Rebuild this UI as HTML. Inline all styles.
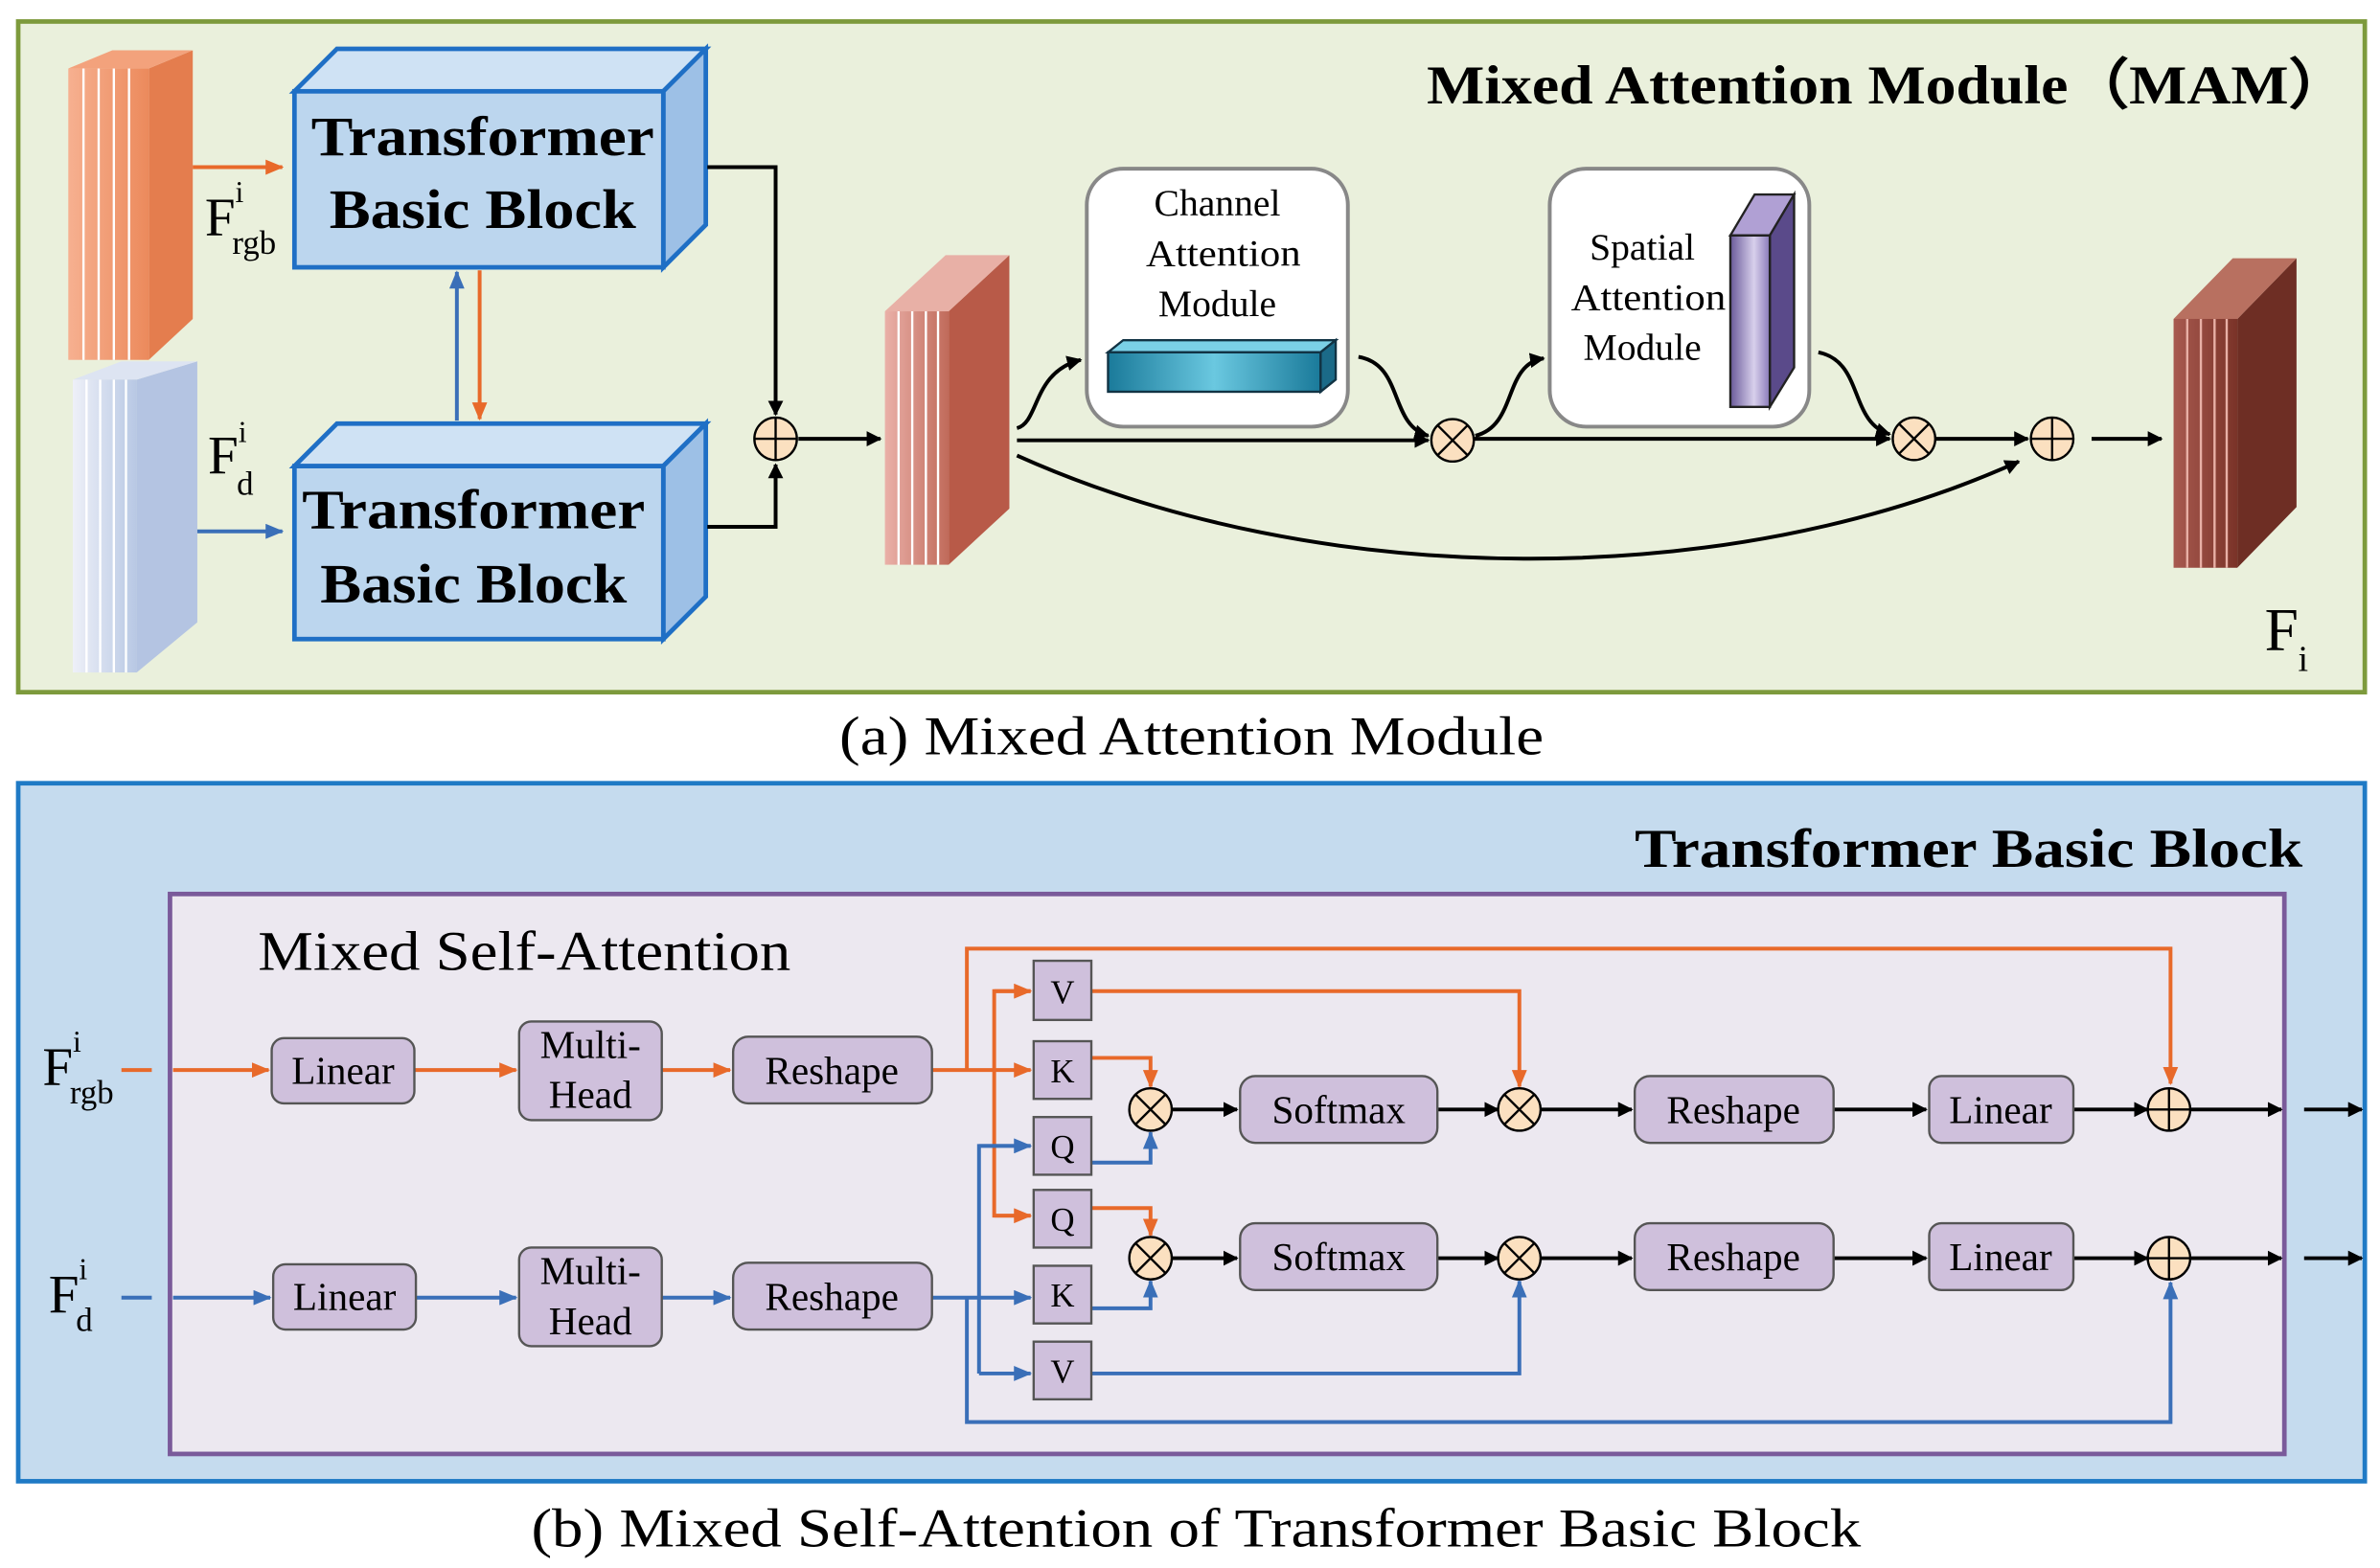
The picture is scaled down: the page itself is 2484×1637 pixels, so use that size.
<!DOCTYPE html>
<html><head><meta charset="utf-8"><style>html,body{margin:0;padding:0;background:#fff}svg{display:block}</style></head>
<body>
<svg width="2484" height="1637" viewBox="0 0 1568 1033" xmlns="http://www.w3.org/2000/svg" font-family="Liberation Serif, serif">
<defs>
<marker id="ak" markerWidth="10" markerHeight="10" refX="9" refY="5" orient="auto" markerUnits="userSpaceOnUse"><path d="M0,0 L10,5 L0,10 z" fill="#000"/></marker>
<marker id="ao" markerWidth="12" markerHeight="10" refX="11" refY="5" orient="auto" markerUnits="userSpaceOnUse"><path d="M0,0 L12,5 L0,10 z" fill="#e8692a"/></marker>
<marker id="ab" markerWidth="12" markerHeight="10" refX="11" refY="5" orient="auto" markerUnits="userSpaceOnUse"><path d="M0,0 L12,5 L0,10 z" fill="#3a6fb8"/></marker>
<linearGradient id="gor" x1="0" x2="1"><stop offset="0" stop-color="#f6b090"/><stop offset="1" stop-color="#ec8a5c"/></linearGradient>
<linearGradient id="gbl" x1="0" x2="1"><stop offset="0" stop-color="#eef0f8"/><stop offset="1" stop-color="#b8c8e4"/></linearGradient>
<linearGradient id="grd" x1="0" x2="1"><stop offset="0" stop-color="#eab0a8"/><stop offset="1" stop-color="#c06a5a"/></linearGradient>
<linearGradient id="gdr" x1="0" x2="1"><stop offset="0" stop-color="#a85a50"/><stop offset="1" stop-color="#7a3328"/></linearGradient>
<linearGradient id="gteal" x1="0" x2="1"><stop offset="0" stop-color="#1a7a9a"/><stop offset="0.5" stop-color="#6ac8e0"/><stop offset="1" stop-color="#1a7a9a"/></linearGradient>
<linearGradient id="gpur" x1="0" x2="1"><stop offset="0" stop-color="#6a5a9a"/><stop offset="0.6" stop-color="#d8d0ec"/><stop offset="1" stop-color="#8a7ab8"/></linearGradient>
</defs>

<rect x="12" y="14" width="1546" height="442" fill="#eaf0dc" stroke="#7d9a3c" stroke-width="3"/>
<text x="940" y="68" font-size="36" font-weight="bold" textLength="608" lengthAdjust="spacingAndGlyphs">Mixed Attention Module（MAM）</text>

<polygon points="98,45 127,33 127,210 98,237" fill="#e47d4e"/>
<polygon points="45,45 74,33 127,33 98,45" fill="#f3a27c"/>
<rect x="45" y="45" width="53" height="192" fill="url(#gor)"/>
<g stroke="#fff" stroke-width="1.5"><line x1="55" y1="45" x2="55" y2="237"/><line x1="65" y1="45" x2="65" y2="237"/><line x1="75" y1="45" x2="75" y2="237"/><line x1="85" y1="45" x2="85" y2="237"/></g>
<polygon points="90,250 130,238 130,410 90,443" fill="#b4c4e2"/>
<polygon points="48,250 80,238 130,238 90,250" fill="#dde4f2"/>
<rect x="48" y="250" width="42" height="193" fill="url(#gbl)"/>
<g stroke="#fff" stroke-width="1.5"><line x1="57" y1="250" x2="57" y2="443"/><line x1="66" y1="250" x2="66" y2="443"/><line x1="75" y1="250" x2="75" y2="443"/><line x1="83" y1="250" x2="83" y2="443"/></g>

<text x="135" y="155" font-size="36">F</text><text x="155" y="133" font-size="20">i</text><text x="153" y="167" font-size="22">rgb</text>
<text x="137" y="312" font-size="36">F</text><text x="157" y="291" font-size="20">i</text><text x="156" y="326" font-size="22">d</text>

<g stroke="#1f6fc5" stroke-width="3">
<polygon points="194,60 222,32 465,32 437,60" fill="#cfe2f4"/>
<polygon points="437,60 465,32 465,148 437,176" fill="#9dc0e6"/>
<rect x="194" y="60" width="243" height="116" fill="#bcd6ee"/>
<polygon points="194,307 222,279 465,279 437,307" fill="#cfe2f4"/>
<polygon points="437,307 465,279 465,393 437,421" fill="#9dc0e6"/>
<rect x="194" y="307" width="243" height="114" fill="#bcd6ee"/>
</g>
<g font-size="37" font-weight="bold">
<text x="205" y="102" textLength="226" lengthAdjust="spacingAndGlyphs">Transformer</text><text x="217" y="150" textLength="202" lengthAdjust="spacingAndGlyphs">Basic Block</text>
<text x="199" y="348" textLength="226" lengthAdjust="spacingAndGlyphs">Transformer</text><text x="211" y="397" textLength="202" lengthAdjust="spacingAndGlyphs">Basic Block</text>
</g>
<line x1="127" y1="110" x2="186" y2="110" stroke="#e8692a" stroke-width="2.5" marker-end="url(#ao)"/>
<line x1="130" y1="350" x2="186" y2="350" stroke="#3a6fb8" stroke-width="2.5" marker-end="url(#ab)"/>
<line x1="301" y1="277" x2="301" y2="179" stroke="#3a6fb8" stroke-width="2.5" marker-end="url(#ab)"/>
<line x1="316" y1="178" x2="316" y2="276" stroke="#e8692a" stroke-width="2.5" marker-end="url(#ao)"/>
<g fill="none" stroke="#000" stroke-width="2.5">
<polyline points="466,110 511,110 511,273" marker-end="url(#ak)"/>
<polyline points="466,347 511,347 511,306" marker-end="url(#ak)"/>
<line x1="526" y1="289" x2="580" y2="289" marker-end="url(#ak)"/>
</g>
<g fill="#fbe0c0" stroke="#000" stroke-width="1.5">
<circle cx="511" cy="289" r="14"/><circle cx="957" cy="290" r="14"/><circle cx="1261" cy="289" r="14"/><circle cx="1352" cy="289" r="14"/>
</g>
<g stroke="#000" stroke-width="1.5">
<path d="M497,289 H525 M511,275 V303 M1338,289 H1366 M1352,275 V303"/>
<path d="M947,280 L967,300 M967,280 L947,300 M1251,279 L1271,299 M1271,279 L1251,299"/>
</g>

<polygon points="625,205 665,168 665,335 625,372" fill="#b85a48"/>
<polygon points="583,205 623,168 665,168 625,205" fill="#e8b0a6"/>
<rect x="583" y="205" width="42" height="167" fill="url(#grd)"/>
<g stroke="#fff" stroke-width="1.5"><line x1="592" y1="205" x2="592" y2="372"/><line x1="601" y1="205" x2="601" y2="372"/><line x1="610" y1="205" x2="610" y2="372"/><line x1="618" y1="205" x2="618" y2="372"/></g>

<rect x="716" y="111" width="172" height="170" rx="24" fill="#fff" stroke="#888" stroke-width="2.5"/>
<g font-size="25" text-anchor="middle"><text x="802" y="142">Channel</text><text x="806" y="175" textLength="102" lengthAdjust="spacingAndGlyphs">Attention</text><text x="802" y="208">Module</text></g>
<polygon points="730,232 740,224 880,224 870,232" fill="#7ad0e6" stroke="#134" stroke-width="1.5"/>
<polygon points="870,232 880,224 880,250 870,258" fill="#1b6a88" stroke="#134" stroke-width="1.5"/>
<rect x="730" y="232" width="140" height="26" fill="url(#gteal)" stroke="#134" stroke-width="1.5"/>
<rect x="1021" y="111" width="171" height="170" rx="24" fill="#fff" stroke="#888" stroke-width="2.5"/>
<g font-size="25" text-anchor="middle"><text x="1082" y="171">Spatial</text><text x="1086" y="204" textLength="102" lengthAdjust="spacingAndGlyphs">Attention</text><text x="1082" y="237">Module</text></g>
<polygon points="1140,155 1156,128 1182,128 1166,155" fill="#b0a0d4" stroke="#222" stroke-width="1.5"/>
<polygon points="1166,155 1182,128 1182,242 1166,268" fill="#5a4a8a" stroke="#222" stroke-width="1.5"/>
<rect x="1140" y="155" width="26" height="113" fill="url(#gpur)" stroke="#222" stroke-width="1.5"/>

<g fill="none" stroke="#000" stroke-width="2.5">
<path d="M670,282 C685,278 680,245 712,237" marker-end="url(#ak)"/>
<path d="M895,235 C925,240 915,280 941,287" marker-end="url(#ak)"/>
<path d="M972,287 C1000,280 990,240 1017,236" marker-end="url(#ak)"/>
<path d="M1198,232 C1228,238 1218,278 1245,286" marker-end="url(#ak)"/>
<line x1="670" y1="290" x2="941" y2="290" marker-end="url(#ak)"/>
<line x1="971" y1="289" x2="1245" y2="289" marker-end="url(#ak)"/>
<line x1="1275" y1="289" x2="1336" y2="289" marker-end="url(#ak)"/>
<line x1="1378" y1="289" x2="1424" y2="289" marker-end="url(#ak)"/>
<path d="M670,300 C870,390 1140,390 1330,304" marker-end="url(#ak)"/>
</g>

<polygon points="1474,210 1513,170 1513,334 1474,374" fill="#6e2e24"/>
<polygon points="1432,210 1471,170 1513,170 1474,210" fill="#b87060"/>
<rect x="1432" y="210" width="42" height="164" fill="url(#gdr)"/>
<g stroke="#e8b0a6" stroke-width="1.5"><line x1="1441" y1="210" x2="1441" y2="374"/><line x1="1450" y1="210" x2="1450" y2="374"/><line x1="1459" y1="210" x2="1459" y2="374"/><line x1="1467" y1="210" x2="1467" y2="374"/></g>
<text x="1492" y="428" font-size="40">F</text><text x="1514" y="442" font-size="24">i</text>

<text x="553" y="497" font-size="36" textLength="464" lengthAdjust="spacingAndGlyphs">(a) Mixed Attention Module</text>

<rect x="12" y="516" width="1546" height="460" fill="#c5dbee" stroke="#1f7ac5" stroke-width="3"/>
<text x="1077" y="571" font-size="36" font-weight="bold" textLength="440" lengthAdjust="spacingAndGlyphs">Transformer Basic Block</text>
<rect x="112" y="589" width="1393" height="369" fill="#ece8f0" stroke="#7a5a9a" stroke-width="3"/>
<text x="170" y="639" font-size="37" textLength="351" lengthAdjust="spacingAndGlyphs">Mixed Self-Attention</text>

<text x="28" y="715" font-size="36">F</text><text x="48" y="693" font-size="20">i</text><text x="46" y="727" font-size="22">rgb</text>
<text x="32" y="865" font-size="36">F</text><text x="52" y="843" font-size="20">i</text><text x="50" y="877" font-size="22">d</text>

<g fill="none" stroke-width="2.5">
<line x1="80" y1="705" x2="100" y2="705" stroke="#e8692a"/>
<line x1="114" y1="705" x2="177" y2="705" stroke="#e8692a" marker-end="url(#ao)"/>
<line x1="273" y1="705" x2="340" y2="705" stroke="#e8692a" marker-end="url(#ao)"/>
<line x1="436" y1="705" x2="481" y2="705" stroke="#e8692a" marker-end="url(#ao)"/>
<line x1="614" y1="705" x2="679" y2="705" stroke="#e8692a" marker-end="url(#ao)"/>
<polyline points="637,705 637,625 1430,625 1430,714" stroke="#e8692a" marker-end="url(#ao)"/>
<polyline points="679,653 655,653 655,801 679,801" stroke="#e8692a"/>
<line x1="655" y1="653" x2="679" y2="653" stroke="#e8692a" marker-end="url(#ao)"/>
<line x1="655" y1="801" x2="679" y2="801" stroke="#e8692a" marker-end="url(#ao)"/>
<polyline points="719,697 758,697 758,716" stroke="#e8692a" marker-end="url(#ao)"/>
<polyline points="719,796 758,796 758,814" stroke="#e8692a" marker-end="url(#ao)"/>
<polyline points="719,653 1001,653 1001,716" stroke="#e8692a" marker-end="url(#ao)"/>

<line x1="80" y1="855" x2="100" y2="855" stroke="#3a6fb8"/>
<line x1="114" y1="855" x2="178" y2="855" stroke="#3a6fb8" marker-end="url(#ab)"/>
<line x1="274" y1="855" x2="340" y2="855" stroke="#3a6fb8" marker-end="url(#ab)"/>
<line x1="436" y1="855" x2="481" y2="855" stroke="#3a6fb8" marker-end="url(#ab)"/>
<line x1="614" y1="855" x2="679" y2="855" stroke="#3a6fb8" marker-end="url(#ab)"/>
<polyline points="637,855 637,937 1430,937 1430,845" stroke="#3a6fb8" marker-end="url(#ab)"/>
<polyline points="679,755 645,755 645,905" stroke="#3a6fb8"/>
<line x1="645" y1="755" x2="679" y2="755" stroke="#3a6fb8" marker-end="url(#ab)"/>
<line x1="645" y1="905" x2="679" y2="905" stroke="#3a6fb8" marker-end="url(#ab)"/>
<polyline points="719,766 758,766 758,746" stroke="#3a6fb8" marker-end="url(#ab)"/>
<polyline points="719,862 758,862 758,844" stroke="#3a6fb8" marker-end="url(#ab)"/>
<polyline points="719,905 1001,905 1001,844" stroke="#3a6fb8" marker-end="url(#ab)"/>
</g>

<g fill="none" stroke="#000" stroke-width="2.5">
<line x1="772" y1="731" x2="815" y2="731" marker-end="url(#ak)"/>
<line x1="947" y1="731" x2="987" y2="731" marker-end="url(#ak)"/>
<line x1="1015" y1="731" x2="1075" y2="731" marker-end="url(#ak)"/>
<line x1="1208" y1="731" x2="1269" y2="731" marker-end="url(#ak)"/>
<line x1="1366" y1="731" x2="1415" y2="731" marker-end="url(#ak)"/>
<line x1="1443" y1="731" x2="1503" y2="731" marker-end="url(#ak)"/>
<line x1="1518" y1="731" x2="1556" y2="731" marker-end="url(#ak)"/>
<line x1="772" y1="829" x2="815" y2="829" marker-end="url(#ak)"/>
<line x1="947" y1="829" x2="987" y2="829" marker-end="url(#ak)"/>
<line x1="1015" y1="829" x2="1075" y2="829" marker-end="url(#ak)"/>
<line x1="1208" y1="829" x2="1269" y2="829" marker-end="url(#ak)"/>
<line x1="1366" y1="829" x2="1415" y2="829" marker-end="url(#ak)"/>
<line x1="1443" y1="829" x2="1503" y2="829" marker-end="url(#ak)"/>
<line x1="1518" y1="829" x2="1556" y2="829" marker-end="url(#ak)"/>
</g>

<g fill="#cfc0dc" stroke="#555" stroke-width="1.5">
<rect x="179" y="684" width="94" height="43" rx="8"/>
<rect x="342" y="673" width="94" height="65" rx="8"/>
<rect x="483" y="683" width="131" height="44" rx="10"/>
<rect x="180" y="833" width="94" height="43" rx="8"/>
<rect x="342" y="822" width="94" height="65" rx="8"/>
<rect x="483" y="832" width="131" height="44" rx="10"/>
<rect x="681" y="633" width="38" height="39"/>
<rect x="681" y="686" width="38" height="38"/>
<rect x="681" y="736" width="38" height="38"/>
<rect x="681" y="784" width="38" height="38"/>
<rect x="681" y="834" width="38" height="38"/>
<rect x="681" y="884" width="38" height="38"/>
<rect x="817" y="709" width="130" height="44" rx="10"/>
<rect x="817" y="806" width="130" height="44" rx="10"/>
<rect x="1077" y="709" width="131" height="44" rx="10"/>
<rect x="1077" y="806" width="131" height="44" rx="10"/>
<rect x="1271" y="709" width="95" height="44" rx="8"/>
<rect x="1271" y="806" width="95" height="44" rx="8"/>
</g>
<g font-size="26" text-anchor="middle">
<text x="226" y="714">Linear</text>
<text x="389" y="697">Multi-</text><text x="389" y="730">Head</text>
<text x="548" y="714">Reshape</text>
<text x="227" y="863">Linear</text>
<text x="389" y="846">Multi-</text><text x="389" y="879">Head</text>
<text x="548" y="863">Reshape</text>
<text x="882" y="740">Softmax</text><text x="882" y="837">Softmax</text>
<text x="1142" y="740">Reshape</text><text x="1142" y="837">Reshape</text>
<text x="1318" y="740">Linear</text><text x="1318" y="837">Linear</text>
</g>
<g font-size="22" text-anchor="middle">
<text x="700" y="661">V</text><text x="700" y="713">K</text><text x="700" y="763">Q</text>
<text x="700" y="811">Q</text><text x="700" y="861">K</text><text x="700" y="911">V</text>
</g>
<g fill="#fbe0c0" stroke="#000" stroke-width="1.5">
<circle cx="758" cy="731" r="14"/><circle cx="1001" cy="731" r="14"/><circle cx="758" cy="829" r="14"/><circle cx="1001" cy="829" r="14"/>
<circle cx="1429" cy="731" r="14"/><circle cx="1429" cy="829" r="14"/>
</g>
<g stroke="#000" stroke-width="1.5">
<path d="M748,721 L768,741 M768,721 L748,741 M991,721 L1011,741 M1011,721 L991,741 M748,819 L768,839 M768,819 L748,839 M991,819 L1011,839 M1011,819 L991,839"/>
<path d="M1415,731 H1443 M1429,717 V745 M1415,829 H1443 M1429,815 V843"/>
</g>

<text x="350" y="1019" font-size="36" textLength="876" lengthAdjust="spacingAndGlyphs">(b) Mixed Self-Attention of Transformer Basic Block</text>
</svg>
</body></html>
